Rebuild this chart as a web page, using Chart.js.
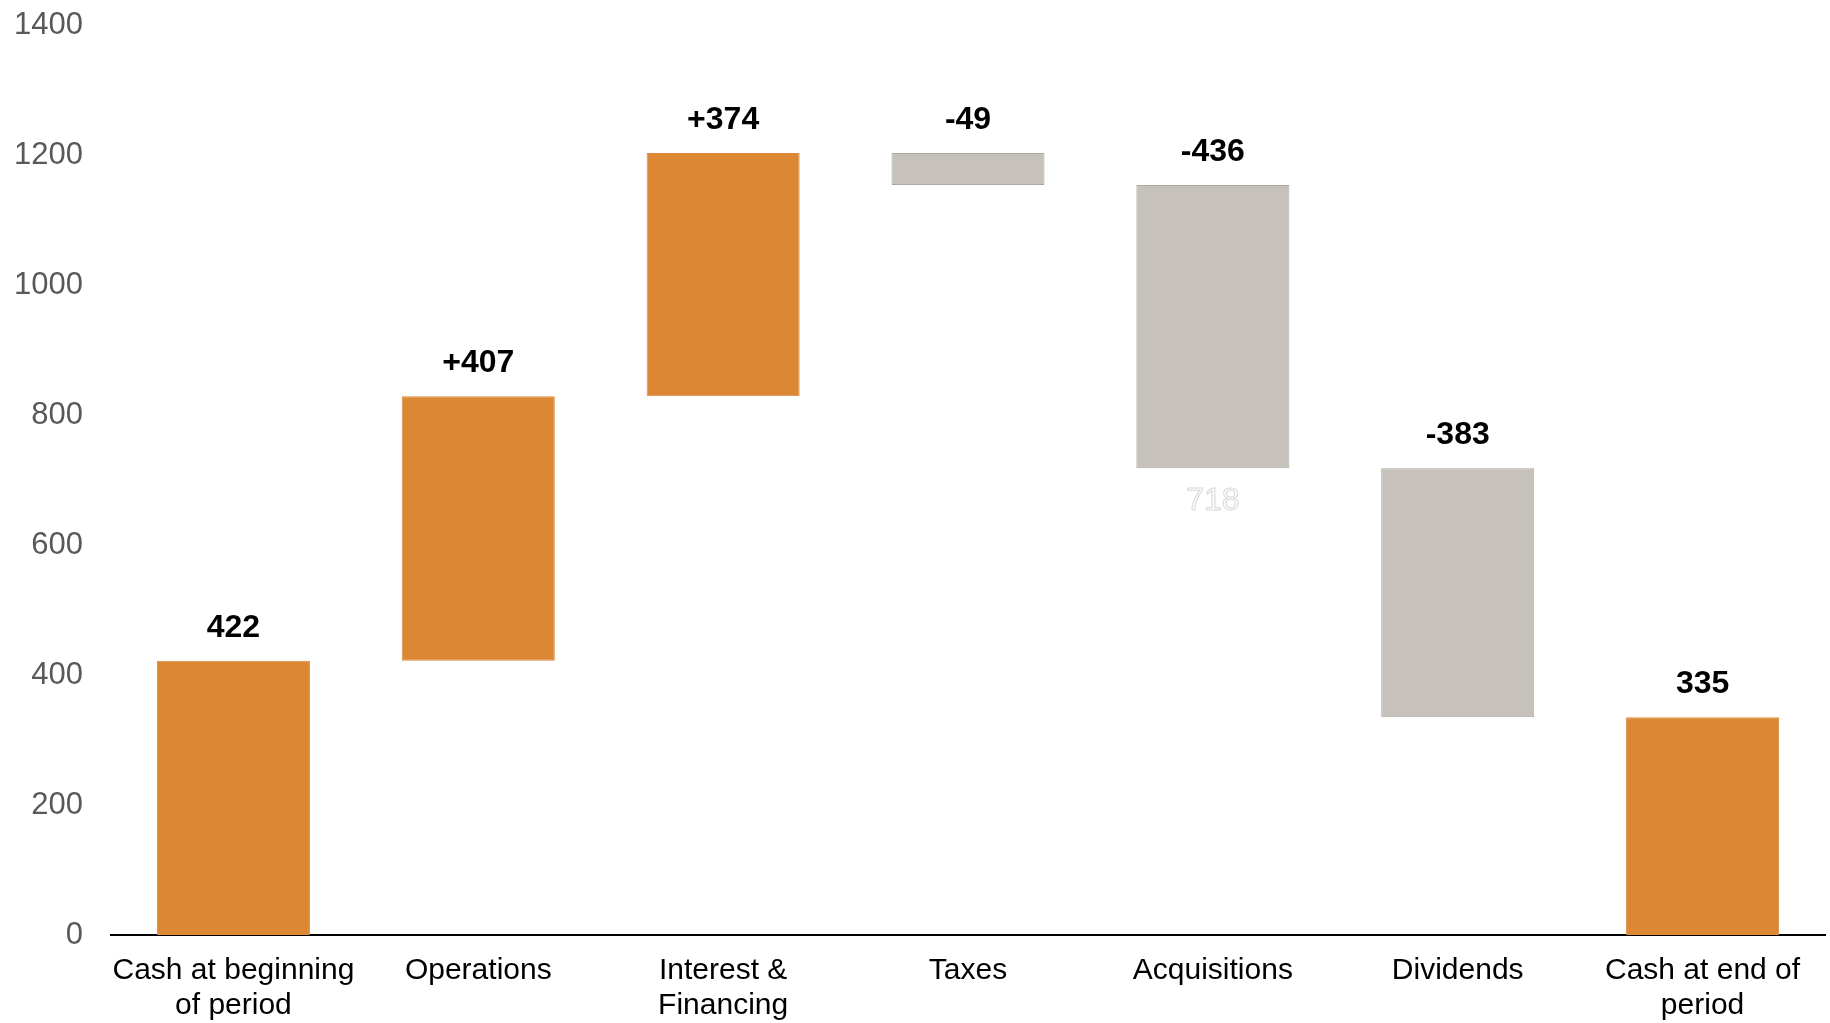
<!DOCTYPE html>
<html>
<head>
<meta charset="utf-8">
<script src="https://cdn.jsdelivr.net/npm/chart.js@4/dist/chart.umd.min.js"></script>
<style>
  html, body { margin: 0; padding: 0; background: #ffffff; }
  #wrap { width: 1830px; height: 1023px; position: relative; }
</style>
</head>
<body>
<div id="wrap"><canvas id="c" width="1830" height="1023"></canvas></div>
<script>
// ---- data ----
const categories = [
  ['Cash at beginning', 'of period'],
  ['Operations'],
  ['Interest &', 'Financing'],
  ['Taxes'],
  ['Acquisitions'],
  ['Dividends'],
  ['Cash at end of', 'period']
];
const changes = [422, 407, 374, -49, -436, -383, 335];
const kinds = ['total', 'up', 'up', 'down', 'down', 'down', 'total'];
const valueLabels = ['422', '+407', '+374', '-49', '-436', '-383', '335'];
const ghostLabels = ['', '', '', '', '718', '', ''];
const yTicks = [0, 200, 400, 600, 800, 1000, 1200, 1400];

// build floating ranges from the values
const ranges = [];
let running = 0;
for (let i = 0; i < changes.length; i++) {
  if (kinds[i] === 'total') {
    ranges.push([0, changes[i]]);
    running = changes[i];
  } else {
    ranges.push([running, running + changes[i]]);
    running += changes[i];
  }
}

const ORANGE = '#DC8733';
const GREY = '#C6C2BB';
const fills = kinds.map(k => k === 'down' ? GREY : ORANGE);
const borders = kinds.map(k => k === 'down' ? '#ADA9A2' : '#D98A40');

const labelPlugin = {
  id: 'valueLabels',
  afterDatasetsDraw(chart) {
    const ctx = chart.ctx;
    const meta = chart.getDatasetMeta(0);
    ctx.save();
    ctx.textAlign = 'center';
    ctx.textBaseline = 'alphabetic';
    meta.data.forEach((bar, i) => {
      const top = Math.min(bar.y, bar.base);
      const bottom = Math.max(bar.y, bar.base);
      ctx.font = 'bold 32px "Liberation Sans", Arial, sans-serif';
      ctx.fillStyle = '#000000';
      ctx.fillText(valueLabels[i], bar.x, top - 24);
      if (ghostLabels[i]) {
        ctx.font = '32px "Liberation Sans", Arial, sans-serif';
        ctx.fillStyle = '#ffffff';
        ctx.strokeStyle = '#d6d6d6';
        ctx.lineWidth = 1;
        ctx.fillText(ghostLabels[i], bar.x, bottom + 42);
        ctx.strokeText(ghostLabels[i], bar.x, bottom + 42);
      }
    });
    ctx.restore();
  }
};

new Chart(document.getElementById('c'), {
  type: 'bar',
  data: {
    labels: categories,
    datasets: [{
      data: ranges,
      backgroundColor: fills,
      borderColor: borders,
      borderWidth: 1,
      borderSkipped: false,
      barPercentage: 0.625,
      categoryPercentage: 1.0
    }]
  },
  options: {
    responsive: false,
    animation: false,
    devicePixelRatio: 1,
    layout: { padding: { top: 25, right: 5, left: 0, bottom: 0 } },
    plugins: {
      legend: { display: false },
      tooltip: { enabled: false }
    },
    scales: {
      x: {
        grid: { display: false, drawTicks: false },
        border: { display: true, color: '#000000', width: 2 },
        ticks: {
          color: '#000000',
          font: { family: '"Liberation Sans", Arial, sans-serif', size: 30, lineHeight: 1.17 },
          padding: 18,
          maxRotation: 0,
          autoSkip: false
        },
        afterFit(scale) { scale.height = 88; }
      },
      y: {
        min: 0,
        max: 1400,
        afterBuildTicks(scale) { scale.ticks = yTicks.map(v => ({ value: v })); },
        grid: { display: false, drawTicks: false },
        border: { display: false },
        ticks: {
          color: '#595959',
          font: { family: '"Liberation Sans", Arial, sans-serif', size: 31 },
          padding: 28,
          callback: (v) => String(v)
        },
        afterFit(scale) {
          scale.width = 111;
          scale.paddingTop = 0;
          scale.paddingBottom = 0;
        }
      }
    }
  },
  plugins: [labelPlugin]
});
</script>
</body>
</html>
